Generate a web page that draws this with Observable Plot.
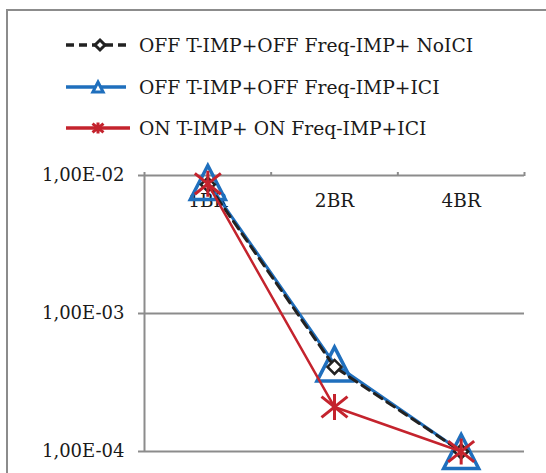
<!DOCTYPE html>
<html>
<head>
<meta charset="utf-8">
<script src="https://cdn.jsdelivr.net/npm/d3@7"></script>
<script src="https://cdn.jsdelivr.net/npm/@observablehq/plot@0.6"></script>
<style>
  html, body { margin: 0; padding: 0; background: #fff; width: 546px; height: 473px; overflow: hidden; }
  #frame { position: absolute; left: 6px; top: 9px; width: 600px; height: 600px; border: 2px solid #8c8c8c; box-sizing: border-box; }
  #legend { position: absolute; left: 0; top: 0; width: 546px; height: 150px; font-family: "DejaVu Serif", serif; font-size: 18.7px; color: #1a1a1a; }
  .row { position: absolute; left: 60px; height: 30px; display: flex; align-items: center; }
  .row span { position: absolute; left: 79px; white-space: nowrap; }
  #chart { position: absolute; left: 0; top: 150px; }
</style>
</head>
<body>
<div id="frame"></div>
<div id="legend"></div>
<div id="chart"></div>
<script>
const categories = ["1BR", "2BR", "4BR"];
const seriesNames = ["OFF T-IMP+OFF Freq-IMP+ NoICI", "OFF T-IMP+OFF Freq-IMP+ICI", "ON T-IMP+ ON Freq-IMP+ICI"];
const offNoICI = [0.0086, 0.00041, 0.0001];
const offICI = [0.0089, 0.00043, 0.0001];
const onICI = [0.0087, 0.00021, 0.0001];
const yTicks = [1e-2, 1e-3, 1e-4];
const yTickLabels = ["1,00E-02", "1,00E-03", "1,00E-04"];
const colors = ["#222222", "#1f6fbd", "#c4232d"];
const gridColor = "#8c8c8c";

const triSym = {draw(ctx, size) { const r = Math.sqrt(size / Math.PI); ctx.moveTo(0, -r); ctx.lineTo(r * 1.03, r); ctx.lineTo(-r * 1.03, r); ctx.closePath(); }};
const diaSym = {draw(ctx, size) { const r = Math.sqrt(size / Math.PI); ctx.moveTo(0, -r); ctx.lineTo(r, 0); ctx.lineTo(0, r); ctx.lineTo(-r, 0); ctx.closePath(); }};
const starSym = {draw(ctx, size) { const r = Math.sqrt(size / Math.PI); ctx.moveTo(-r, -r * 0.8); ctx.lineTo(r, r * 0.8); ctx.moveTo(-r, r * 0.8); ctx.lineTo(r, -r * 0.8); ctx.moveTo(0, -r); ctx.lineTo(0, r); }};

function rows(values) { return values.map((v, i) => ({i, v})); }
const dNo = rows(offNoICI), dIci = rows(offICI), dOn = rows(onICI);
const edges = d3.range(categories.length + 1).map(i => i - 0.5);

const chart = Plot.plot({
  width: 546,
  height: 323,
  marginLeft: 144,
  marginRight: 22,
  marginTop: 25,
  marginBottom: 22,
  style: {fontFamily: "DejaVu Serif, serif", fontSize: "19px", color: "#1a1a1a", overflow: "visible", background: "transparent"},
  x: {type: "linear", domain: [-0.5, categories.length - 0.5], axis: null},
  y: {type: "log", domain: [1e-4, 1e-2], axis: null},
  marks: [
    Plot.ruleY(yTicks, {stroke: gridColor, strokeWidth: 2}),
    Plot.ruleX([edges[0]], {stroke: gridColor, strokeWidth: 2}),
    Plot.axisY(yTicks, {anchor: "left", label: null, tickFormat: d => yTickLabels[yTicks.indexOf(d)], tickSize: 6, tickPadding: 14, fontSize: 18, stroke: gridColor, strokeWidth: 2, fill: "#1a1a1a"}),
    Plot.axisX(edges, {anchor: "top", label: null, tickSize: 4, tickFormat: () => "", stroke: gridColor, strokeWidth: 2}),
    Plot.text(categories, {x: (d, i) => i, text: d => d, frameAnchor: "top", dy: 26, lineAnchor: "middle", fontSize: 18.5, fill: "#1a1a1a"}),
    Plot.line(dIci, {x: "i", y: "v", stroke: colors[1], strokeWidth: 3}),
    Plot.dot(dIci, {x: "i", y: "v", symbol: triSym, r: 17, stroke: colors[1], strokeWidth: 3.5, fill: "none"}),
    Plot.line(dNo, {x: "i", y: "v", stroke: colors[0], strokeWidth: 3, strokeDasharray: "9,6"}),
    Plot.dot(dNo, {x: "i", y: "v", symbol: diaSym, r: 7, stroke: colors[0], strokeWidth: 2.5, fill: "white"}),
    Plot.line(dOn, {x: "i", y: "v", stroke: colors[2], strokeWidth: 2.5}),
    Plot.dot(dOn, {x: "i", y: "v", symbol: starSym, r: 13, stroke: colors[2], strokeWidth: 3, fill: "none"})
  ]
});
document.getElementById("chart").appendChild(chart);

// Legend
const legend = d3.select("#legend");
const rowY = [45, 87, 128];
seriesNames.forEach((name, k) => {
  const row = legend.append("div").attr("class", "row").style("top", (rowY[k] - 15) + "px");
  const svg = row.append("svg").attr("width", 72).attr("height", 30);
  const line = svg.append("line").attr("x1", 6).attr("x2", k === 2 ? 70 : 66).attr("y1", 15).attr("y2", 15)
    .attr("stroke", colors[k]).attr("stroke-width", 3.5);
  if (k === 0) {
    line.attr("stroke-dasharray", "8,5");
    svg.append("path").attr("d", d3.symbol(diaSym, 5 * 5 * Math.PI)()).attr("transform", "translate(40,15)")
      .attr("fill", "white").attr("stroke", colors[0]).attr("stroke-width", 3);
  } else if (k === 1) {
    svg.append("path").attr("d", d3.symbol(triSym, 5 * 5 * Math.PI)()).attr("transform", "translate(38,15)")
      .attr("fill", "white").attr("stroke", colors[1]).attr("stroke-width", 3);
  } else {
    svg.append("path").attr("d", d3.symbol(starSym, 5.5 * 5.5 * Math.PI)()).attr("transform", "translate(38,15)")
      .attr("fill", "none").attr("stroke", colors[2]).attr("stroke-width", 3);
  }
  row.append("span").text(name);
});
</script>
</body>
</html>
